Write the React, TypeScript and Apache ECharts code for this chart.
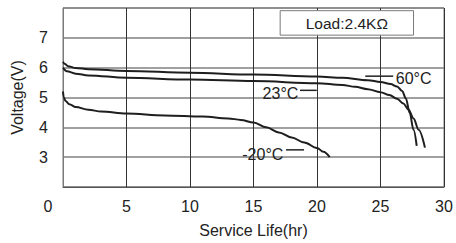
import React, { useEffect, useRef } from "react";
import * as echarts from "echarts";

const xTicks = [0, 5, 10, 15, 20, 25, 30];
const yTicks = [3, 4, 5, 6, 7];

const curve60: number[][] = [
  [0, 6.2], [0.15, 6.12], [0.4, 6.05], [1, 5.99], [2, 5.95], [5, 5.89], [10, 5.83],
  [15, 5.77], [20, 5.7], [22, 5.66], [24, 5.58], [25, 5.52], [25.8, 5.45],
  [26.3, 5.37], [26.7, 5.22], [27, 4.97], [27.3, 4.48], [27.6, 3.92], [27.85, 3.38],
];
const curve23: number[][] = [
  [0, 6.0], [0.3, 5.88], [1, 5.8], [2, 5.74], [5, 5.66], [10, 5.6], [15, 5.55],
  [20, 5.48], [22, 5.42], [23, 5.36], [24, 5.28], [25, 5.18], [25.7, 5.08],
  [26.3, 4.96], [26.8, 4.8], [27.2, 4.6], [27.6, 4.3], [28, 3.92], [28.5, 3.32],
];
const curveM20: number[][] = [
  [0, 5.2], [0.05, 5.02], [0.2, 4.88], [0.5, 4.77], [1, 4.68], [2, 4.59], [3, 4.53],
  [5, 4.46], [8, 4.4], [11, 4.36], [13, 4.3], [14, 4.25], [15, 4.16], [16, 4.0],
  [17, 3.83], [18, 3.66], [19, 3.49], [20, 3.31], [20.5, 3.18], [21, 3.0],
];

const seriesNames = ["60°C", "23°C", "-20°C"];
// leader lines in data coords: [x1, x2, y], label anchor [x, y], align
const leaders = [
  { x1: 23.8, x2: 26.0, y: 5.715, tx: 26.2, ty: 5.63, align: "left" },
  { x1: 18.66, x2: 19.98, y: 5.24, tx: 18.53, ty: 5.14, align: "right" },
  { x1: 17.56, x2: 18.98, y: 3.245, tx: 17.35, ty: 3.1, align: "right" },
];
const loadText = "Load:2.4KΩ";
const loadBox = { x1: 17.1, x2: 27.6, y1: 7.91, y2: 7.09 };

const FONT = "'Liberation Sans', Arial, sans-serif";
const TXT = "#222";

export default function App() {
  const ref = useRef<HTMLDivElement>(null);
  useEffect(() => {
    const chart = echarts.init(ref.current!, null, { renderer: "svg" });
    const lineSeries = (name: string, data: number[][]) => ({
      name,
      type: "line",
      data,
      showSymbol: false,
      smooth: 0.35,
      smoothMonotone: "x",
      lineStyle: { color: "#1e1e1e", width: 2 },
      silent: true,
    });
    chart.setOption({
      animation: false,
      textStyle: { fontFamily: FONT },
      grid: {
        left: 63, right: 12, top: 8, bottom: 53, show: true,
        borderColor: "#7a7a7a", borderWidth: 1, backgroundColor: "#fff",
      },
      xAxis: {
        type: "value", min: 0, max: 30, interval: 5,
        name: "Service Life(hr)", nameLocation: "middle", nameGap: 35,
        nameTextStyle: { fontSize: 16, color: TXT, fontFamily: FONT },
        axisLine: { show: true, lineStyle: { color: "#555" } },
        axisTick: { show: false },
        axisLabel: {
          margin: 11, fontSize: 16, color: TXT, fontFamily: FONT,
          formatter: (v: number) => (v === 0 ? "{z|0}" : xTicks.includes(v) ? String(v) : ""),
          rich: { z: { padding: [0, 30, 0, 0], fontSize: 16, color: TXT, fontFamily: FONT } },
        },
        splitLine: { show: true, lineStyle: { color: "#333", width: 1 } },
      },
      yAxis: {
        type: "value", min: 2, max: 8, interval: 1,
        name: "Voltage(V)", nameLocation: "middle", nameGap: 38,
        nameTextStyle: { fontSize: 16, color: TXT, fontFamily: FONT },
        axisLine: { show: true, lineStyle: { color: "#7a7a7a" } },
        axisTick: { show: false },
        axisLabel: {
          margin: 15, fontSize: 16, color: TXT, fontFamily: FONT,
          formatter: (v: number) => (yTicks.includes(v) ? String(v) : ""),
        },
        splitLine: { show: true, lineStyle: { color: "#808080", width: 1.5 } },
      },
      series: [
        lineSeries(seriesNames[0], curve60),
        lineSeries(seriesNames[1], curve23),
        lineSeries(seriesNames[2], curveM20),
      ],
    });
    const p = (x: number, y: number) => chart.convertToPixel({ gridIndex: 0 }, [x, y]) as number[];
    const graphics: any[] = [];
    leaders.forEach((l, i) => {
      const a = p(l.x1, l.y);
      const b = p(l.x2, l.y);
      const t = p(l.tx, l.ty);
      graphics.push({
        type: "line",
        shape: { x1: a[0], y1: a[1], x2: b[0], y2: b[1] },
        style: { stroke: "#222", lineWidth: 1.5 },
        z: 10,
      });
      graphics.push({
        type: "text",
        x: t[0], y: t[1],
        style: {
          text: seriesNames[i], fontSize: 16, fontFamily: FONT, fill: TXT,
          align: l.align, verticalAlign: "middle",
        },
        z: 10,
      });
    });
    const b1 = p(loadBox.x1, loadBox.y1);
    const b2 = p(loadBox.x2, loadBox.y2);
    graphics.push({
      type: "rect",
      shape: { x: b1[0], y: b1[1], width: b2[0] - b1[0], height: b2[1] - b1[1] },
      style: { fill: "#fff", stroke: "#7a7a7a", lineWidth: 1 },
      z: 10,
    });
    graphics.push({
      type: "text",
      x: (b1[0] + b2[0]) / 2, y: (b1[1] + b2[1]) / 2 + 0.5,
      style: {
        text: loadText, fontSize: 15.5, fontFamily: FONT, fill: TXT,
        align: "center", verticalAlign: "middle",
      },
      z: 11,
    });
    chart.setOption({ graphic: graphics });
    return () => chart.dispose();
  }, []);
  return (
    <div
      ref={ref}
      style={{ position: "absolute", left: 0, top: 0, width: 456, height: 243 }}
    />
  );
}
